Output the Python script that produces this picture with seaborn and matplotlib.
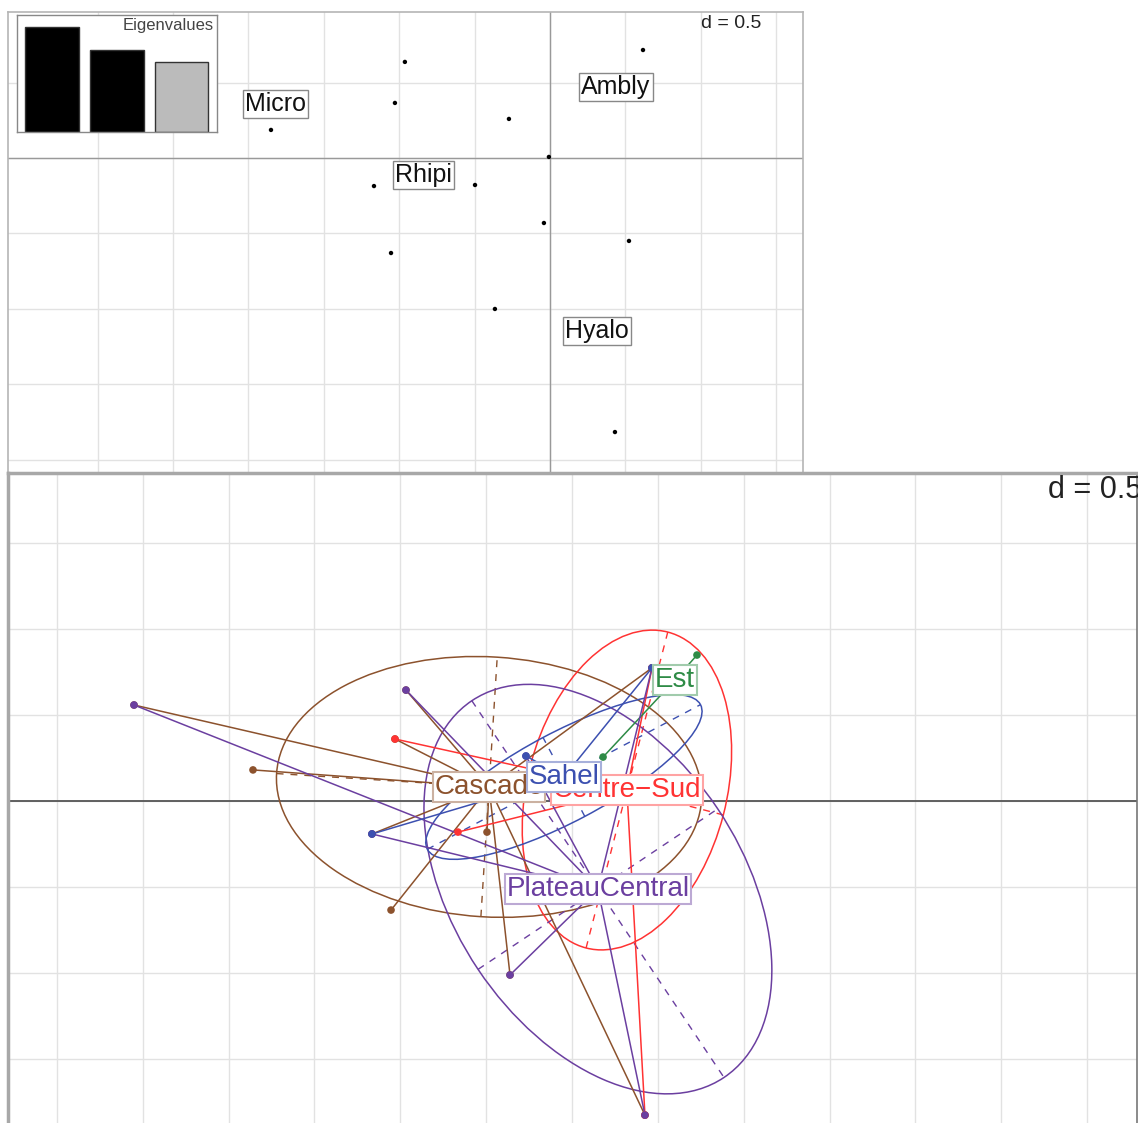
import numpy as np
import pandas as pd
import matplotlib
matplotlib.use("Agg")
import matplotlib.pyplot as plt
import seaborn as sns
from matplotlib.patches import Ellipse
from matplotlib.colors import to_rgb

sns.set_theme(style="white")
plt.rcParams['font.family'] = ['Liberation Sans', 'DejaVu Sans']

# ---- top panel: taxa scores ----
taxa_x = [-1.850, -0.962, -1.028, -0.272, -0.007, -1.167, -0.497, -0.040, 0.524, -1.054, -0.365, 0.617, 0.431]
taxa_y = [0.186, 0.637, 0.365, 0.259, 0.007, -0.186, -0.179, -0.431, -0.550, -0.630, -1.001, 0.716, -1.817]
family_names = ["Micro", "Ambly", "Rhipi", "Hyalo"]
family_x = [-1.817, 0.438, -0.836, 0.312]
family_y = [0.358, 0.471, -0.113, -1.147]
eigenvalues = [0.42, 0.33, 0.28]

# ---- bottom panel: sites by region (one row per site/region link) ----
site_x = [-2.551, -1.858, -0.967, -1.031, -1.165, -1.054, -0.495, -0.361, 0.425, 0.466,   # Cascade
          -1.031, -0.664, 0.425, 0.466,                                                  # Centre-Sud
          0.181, 0.728,                                                                  # Est
          -2.551, -0.967, -1.165, -0.361, 0.425, 0.466, -0.268,                          # PlateauCentral
          -1.165, 0.466, -0.268]                                                         # Sahel
site_y = [0.559, 0.181, 0.646, 0.361, -0.192, -0.635, -0.181, -1.013, -1.829, 0.775,
          0.361, -0.181, -1.829, 0.775,
          0.256, 0.850,
          0.559, 0.646, -0.192, -1.013, -1.829, 0.775, 0.262,
          -0.192, 0.775, 0.262]
site_region = (["Cascade"] * 10 + ["Centre-Sud"] * 4 + ["Est"] * 2
               + ["PlateauCentral"] * 7 + ["Sahel"] * 3)

regions = ["Cascade", "Centre-Sud", "Est", "PlateauCentral", "Sahel"]
region_cx = [-0.483, 0.320, 0.600, 0.151, -0.047]
region_cy = [0.082, 0.064, 0.705, -0.513, 0.140]
ell_a = [1.24, 0.95, 0.0, 1.32, 0.90]
ell_b = [0.757, 0.58, 0.0, 0.84, 0.26]
ell_angle = [-3.6, 75.5, 0.0, -56.2, 27.9]
region_colors = ["#8C522D", "#FF3333", "#2E8B46", "#6B3FA0", "#3C50B0"]

W, H = 1138, 1123
fig = plt.figure(figsize=(W / 100, H / 100), dpi=100)

# ================= top panel =================
ax = fig.add_axes([8 / W, 1 - 480 / H, 795 / W, 468 / H])
ax.set_xlim(-3.594, 1.678)
ax.set_ylim(-2.135, 0.968)
for v in np.arange(-3.0, 1.7, 0.5):
    ax.axvline(v, color="#E2E2E2", lw=1, zorder=0)
for v in np.arange(-2.0, 1.0, 0.5):
    ax.axhline(v, color="#E2E2E2", lw=1, zorder=0)
ax.axvline(0, color="#999999", lw=1, zorder=1)
ax.axhline(0, color="#999999", lw=1, zorder=1)
taxa = pd.DataFrame({"x": taxa_x, "y": taxa_y})
sns.scatterplot(data=taxa, x="x", y="y", color="black", s=10, edgecolor="none", ax=ax, zorder=3)
for name, x, y in zip(family_names, family_x, family_y):
    ax.text(x, y, name, ha="center", va="center", fontsize=18, color="#111111", zorder=4,
            bbox=dict(boxstyle="square,pad=0.08", fc="white", ec="#888888", lw=1))
ax.text((701 - 8) / 795, (480 - 24) / 468, "d = 0.5", transform=ax.transAxes,
        ha="left", va="center", fontsize=14, color="#222222")
ax.set_xticks([]); ax.set_yticks([])
ax.set_xlabel(""); ax.set_ylabel("")
for s in ax.spines.values():
    s.set_color("#B5B5B5"); s.set_linewidth(1.2)

# eigenvalues inset
axe = fig.add_axes([17 / W, 1 - 132 / H, 200 / W, 117 / H])
eig = pd.DataFrame({"k": ["1", "2", "3"], "v": eigenvalues})
sns.barplot(data=eig, x="k", y="v", hue="k", palette=["black", "black", "#BBBBBB"],
            width=0.83, edgecolor="#333333", linewidth=1, legend=False, ax=axe)
axe.set_xlim(-0.54, 2.55)
axe.set_ylim(0, eigenvalues[0] * 117 / 105)
axe.set_xticks([]); axe.set_yticks([])
axe.set_xlabel(""); axe.set_ylabel("")
axe.text(0.985, 0.91, "Eigenvalues", transform=axe.transAxes, ha="right", va="center",
         fontsize=12, color="#444444")
for s in axe.spines.values():
    s.set_color("#888888"); s.set_linewidth(1)

# ================= bottom panel =================
bx = fig.add_axes([8 / W, 0, 1129 / W, 650 / H])
bx.set_facecolor("white")
bx.set_xlim(-3.285, 3.291)
bx.set_ylim(-1.875, 1.910)
for v in np.arange(-3.0, 3.3, 0.5):
    bx.axvline(v, color="#E2E2E2", lw=1, zorder=0)
for v in np.arange(-1.5, 1.95, 0.5):
    bx.axhline(v, color="#E2E2E2", lw=1, zorder=0)
bx.axhline(0, color="#555555", lw=1.3, zorder=1)

sites = pd.DataFrame({"x": site_x, "y": site_y, "region": site_region})
centres = pd.DataFrame({"region": regions, "cx": region_cx, "cy": region_cy})
sites = sites.merge(centres, on="region")
pal = dict(zip(regions, region_colors))

# ellipses with their dashed axes
for reg, cx, cy, a, b, ang, col in zip(regions, region_cx, region_cy, ell_a, ell_b, ell_angle, region_colors):
    if a == 0:
        continue
    bx.add_patch(Ellipse((cx, cy), 2 * a, 2 * b, angle=ang, fill=False, ec=col, lw=1.1, zorder=2))
    t = np.deg2rad(ang)
    for r, phi in [(a, t), (b, t + np.pi / 2)]:
        dx, dy = r * np.cos(phi), r * np.sin(phi)
        bx.plot([cx - dx, cx + dx], [cy - dy, cy + dy], color=col, lw=1, ls=(0, (5, 5)), zorder=2)

# star lines from sites to region centres
for _, row in sites.iterrows():
    bx.plot([row.x, row.cx], [row.y, row.cy], color=pal[row.region], lw=1.1, zorder=3)

sns.scatterplot(data=sites, x="x", y="y", hue="region", palette=pal, hue_order=regions,
                s=30, edgecolor="none", legend=False, ax=bx, zorder=4)

label_order = ["Cascade", "Centre-Sud", "Sahel", "Est", "PlateauCentral"]
for k, reg in enumerate(label_order):
    i = regions.index(reg)
    col = region_colors[i]
    light = tuple(0.45 * c + 0.55 for c in to_rgb(col))
    bx.text(region_cx[i], region_cy[i], reg.replace("-", "\u2212"), ha="center", va="center",
            fontsize=20, color=col, zorder=6 + k,
            bbox=dict(boxstyle="square,pad=0.06", fc="white", ec=light, lw=1.5))

bx.text((1048 - 8) / 1129, (1123 - 490) / 650, "d = 0.5", transform=bx.transAxes,
        ha="left", va="center", fontsize=22, color="#222222", clip_on=False)
bx.set_xticks([]); bx.set_yticks([])
bx.set_xlabel(""); bx.set_ylabel("")
bx.spines["bottom"].set_visible(False)
bx.spines["top"].set_color("#A8A8A8"); bx.spines["top"].set_linewidth(2.5)
bx.spines["left"].set_color("#A8A8A8"); bx.spines["left"].set_linewidth(2.5)
bx.spines["right"].set_color("#777777"); bx.spines["right"].set_linewidth(1.2)

fig.savefig("out.png", dpi=100)
